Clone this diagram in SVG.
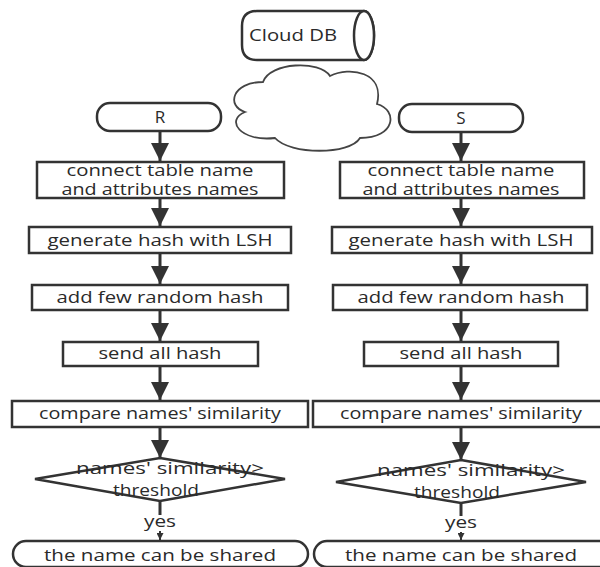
<svg xmlns="http://www.w3.org/2000/svg" width="600" height="567" viewBox="0 0 600 567">
<style>
.shape{fill:#fff;stroke:#333;stroke-width:2.5}
.cloud{fill:#fff;stroke:#444;stroke-width:1.8}
.t{font-family:"Open Sans","DejaVu Sans",sans-serif;font-size:17px;fill:#2a2a2a;text-anchor:middle}
.conn{stroke:#333;stroke-width:3;fill:none}
.thin{stroke:#333;stroke-width:2;fill:none}
</style>
<defs>
<marker id="ah" markerUnits="userSpaceOnUse" markerWidth="18" markerHeight="18" refX="18" refY="9" orient="auto">
<path d="M0,0 L18,9 L0,18 Z" fill="#333"/>
</marker>
<marker id="ahs" markerUnits="userSpaceOnUse" markerWidth="7" markerHeight="7" refX="7" refY="3.5" orient="auto">
<path d="M0,0 L7,3.5 L0,7 Z" fill="#333"/>
</marker>
</defs>
<rect width="600" height="567" fill="#fff"/>

<g id="clouddb">
<path class="shape" d="M257 11 H364 A10 24.5 0 0 1 364 60 H257 Q242 60 242 45 V26 Q242 11 257 11 Z"/>
<ellipse class="shape" cx="364" cy="35.5" rx="10" ry="24.5"/>
<text class="t" x="293" y="41" textLength="88" lengthAdjust="spacingAndGlyphs">Cloud DB</text>
</g>

<g id="cloud">
<path class="cloud" d="M245 112 C226 106 232 82 263 82 C270 62 320 60 330 76 C350 66 385 72 377 104 C398 110 396 138 360 138 C350 155 290 155 275 138 C240 142 225 120 245 112 Z"/>
</g>

<g id="connectors">
<line class="conn" x1="160" y1="131" x2="160" y2="161" marker-end="url(#ah)"/>
<line class="conn" x1="160" y1="198" x2="160" y2="226" marker-end="url(#ah)"/>
<line class="conn" x1="160" y1="253" x2="160" y2="284" marker-end="url(#ah)"/>
<line class="conn" x1="160" y1="310" x2="160" y2="341" marker-end="url(#ah)"/>
<line class="conn" x1="160" y1="366" x2="160" y2="400" marker-end="url(#ah)"/>
<line class="conn" x1="160" y1="427" x2="160" y2="458" marker-end="url(#ah)"/>
<line class="conn" x1="160" y1="501" x2="160" y2="515"/>
<line class="thin" x1="160" y1="531" x2="160" y2="540" marker-end="url(#ahs)"/>

<line class="conn" x1="461" y1="132" x2="461" y2="161" marker-end="url(#ah)"/>
<line class="conn" x1="461" y1="198" x2="461" y2="226" marker-end="url(#ah)"/>
<line class="conn" x1="461" y1="253" x2="461" y2="284" marker-end="url(#ah)"/>
<line class="conn" x1="461" y1="310" x2="461" y2="341" marker-end="url(#ah)"/>
<line class="conn" x1="461" y1="366" x2="461" y2="400" marker-end="url(#ah)"/>
<line class="conn" x1="461" y1="427" x2="461" y2="460" marker-end="url(#ah)"/>
<line class="conn" x1="461" y1="503" x2="461" y2="516"/>
<line class="thin" x1="461" y1="532" x2="461" y2="540" marker-end="url(#ahs)"/>
</g>

<g id="R">
<rect class="shape" x="97" y="103" width="124" height="28" rx="13"/>
<text class="t" x="160" y="123">R</text>
</g>
<g id="L1">
<rect class="shape" x="37" y="162" width="247" height="36"/>
<text class="t" x="160" y="176" textLength="187" lengthAdjust="spacingAndGlyphs">connect table name</text>
<text class="t" x="160" y="195" textLength="197" lengthAdjust="spacingAndGlyphs">and attributes names</text>
</g>
<g id="L2">
<rect class="shape" x="29" y="227" width="262" height="26"/>
<text class="t" x="160" y="246" textLength="225" lengthAdjust="spacingAndGlyphs">generate hash with LSH</text>
</g>
<g id="L3">
<rect class="shape" x="32" y="285" width="256" height="25"/>
<text class="t" x="160" y="303" textLength="207" lengthAdjust="spacingAndGlyphs">add few random hash</text>
</g>
<g id="L4">
<rect class="shape" x="63" y="342" width="195" height="24"/>
<text class="t" x="160" y="359" textLength="123" lengthAdjust="spacingAndGlyphs">send all hash</text>
</g>
<g id="L5">
<rect class="shape" x="12" y="401" width="296" height="26"/>
<text class="t" x="160" y="419" textLength="242" lengthAdjust="spacingAndGlyphs">compare names' similarity</text>
</g>
<g id="L6">
<polygon class="shape" points="160,458 285,479 160,501 35,479"/>
<text class="t" x="170" y="474" textLength="188" lengthAdjust="spacingAndGlyphs">names' similarity&gt;</text>
<text class="t" x="156" y="496" textLength="86" lengthAdjust="spacingAndGlyphs">threshold</text>
</g>
<text class="t" x="160" y="527" textLength="32" lengthAdjust="spacingAndGlyphs">yes</text>
<g id="L7">
<rect class="shape" x="13" y="541" width="295" height="26" rx="13"/>
<text class="t" x="160" y="561" textLength="232" lengthAdjust="spacingAndGlyphs">the name can be shared</text>
</g>

<g id="S">
<rect class="shape" x="399" y="104" width="124" height="28" rx="13"/>
<text class="t" x="461" y="124">S</text>
</g>
<g id="R1">
<rect class="shape" x="340" y="162" width="244" height="36"/>
<text class="t" x="461" y="176" textLength="187" lengthAdjust="spacingAndGlyphs">connect table name</text>
<text class="t" x="461" y="195" textLength="197" lengthAdjust="spacingAndGlyphs">and attributes names</text>
</g>
<g id="R2">
<rect class="shape" x="332" y="227" width="260" height="26"/>
<text class="t" x="461" y="246" textLength="225" lengthAdjust="spacingAndGlyphs">generate hash with LSH</text>
</g>
<g id="R3">
<rect class="shape" x="333" y="285" width="254" height="25"/>
<text class="t" x="461" y="303" textLength="207" lengthAdjust="spacingAndGlyphs">add few random hash</text>
</g>
<g id="R4">
<rect class="shape" x="364" y="342" width="194" height="24"/>
<text class="t" x="461" y="359" textLength="123" lengthAdjust="spacingAndGlyphs">send all hash</text>
</g>
<g id="R5">
<rect class="shape" x="313" y="401" width="296" height="26"/>
<text class="t" x="461" y="419" textLength="242" lengthAdjust="spacingAndGlyphs">compare names' similarity</text>
</g>
<g id="R6">
<polygon class="shape" points="461,460 586,482 461,503 336,482"/>
<text class="t" x="471" y="476" textLength="188" lengthAdjust="spacingAndGlyphs">names' similarity&gt;</text>
<text class="t" x="457" y="498" textLength="86" lengthAdjust="spacingAndGlyphs">threshold</text>
</g>
<text class="t" x="461" y="528" textLength="32" lengthAdjust="spacingAndGlyphs">yes</text>
<g id="R7">
<rect class="shape" x="314" y="541" width="300" height="26" rx="13"/>
<text class="t" x="461" y="561" textLength="232" lengthAdjust="spacingAndGlyphs">the name can be shared</text>
</g>
</svg>
